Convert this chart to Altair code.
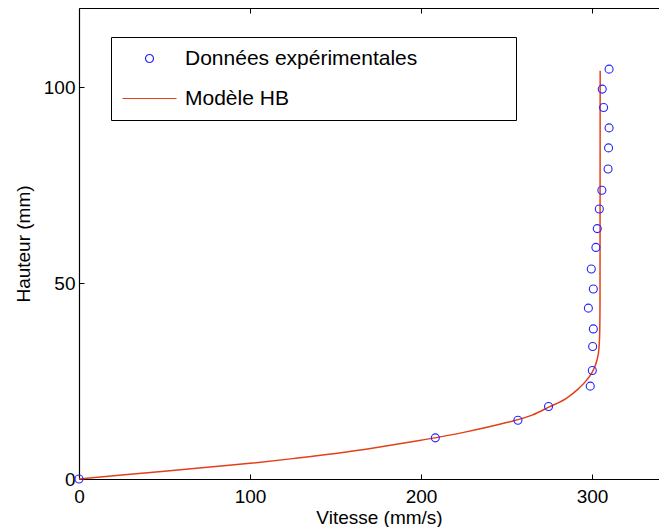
import altair as alt
import pandas as pd

# ---- data ----
series_names = ["Données expérimentales", "Modèle HB"]
series_colors = ["#2323ff", "#e3401a"]

vitesse_exp = [0, 208.4, 256.7, 274.6, 299.0, 300.2, 300.4, 300.8, 297.9, 300.8,
               299.6, 302.3, 303.1, 304.3, 305.8, 309.4, 309.7, 310.0, 306.8, 306.0, 310.0]
hauteur_exp = [0, 10.5, 15.0, 18.5, 23.7, 27.7, 33.8, 38.3, 43.6, 48.5,
               53.6, 59.1, 63.9, 68.9, 73.7, 79.1, 84.5, 89.6, 94.8, 99.5, 104.6]

vitesse_hb = [0, 25, 50, 75, 100, 125, 150, 175, 200, 225, 250, 265, 275, 285,
              292, 297, 301, 303, 304, 304.5, 304.7, 304.8]
hauteur_hb = [0, 1.0, 2.0, 3.0, 4.0, 5.2, 6.5, 8.1, 9.9, 11.9, 14.4, 16.3, 18.4, 20.6,
              23.0, 25.3, 28.0, 30.5, 33.0, 37.0, 45.0, 104.2]

x_ticks = [0, 100, 200, 300]
y_ticks = [0, 50, 100]
x_title = "Vitesse (mm/s)"
y_title = "Hauteur (mm)"

exp_df = pd.DataFrame({"vitesse": vitesse_exp, "hauteur": hauteur_exp,
                       "serie": series_names[0]})
hb_df = pd.DataFrame({"vitesse": vitesse_hb, "hauteur": hauteur_hb,
                      "serie": series_names[1], "ordre": list(range(len(vitesse_hb)))})

W, H = 580, 471
FONT = "Liberation Sans"
FS = 19

x_scale = alt.Scale(domain=[0, 339.2], nice=False, zero=False)
y_scale = alt.Scale(domain=[0, 120.2], nice=False, zero=False)

# invisible padding (no-break spaces closed by a zero-width space so it is not trimmed)
pad = "\u00a0" * 15 + "\u200b"
legend_kw = dict(
    title=None, orient="none", legendX=32, legendY=29,
    padding=11, rowPadding=18, symbolOffset=17, labelOffset=25,
    symbolSize=64, symbolStrokeWidth=1.2,
    strokeColor="black", fillColor="white", cornerRadius=0,
    labelFont=FONT, labelFontSize=21, labelColor="black",
    labelExpr=f"datum.label + '{pad}'", labelLimit=0,
)

color_enc = alt.Color("serie:N", scale=alt.Scale(domain=series_names, range=series_colors),
                      legend=alt.Legend(**legend_kw))
shape_enc = alt.Shape("serie:N", scale=alt.Scale(domain=series_names,
                                                   range=["circle", "M-6.75,0L6.75,0"]),
                      legend=alt.Legend(**legend_kw))

# layer 1: experimental points, with labelled axes (bottom / left)
points = alt.Chart(exp_df).mark_point(filled=False, size=64, strokeWidth=1.1, opacity=1).encode(
    x=alt.X("vitesse:Q", scale=x_scale,
            axis=alt.Axis(orient="bottom", values=x_ticks, ticks=False, title=x_title,
                          labelFlush=False, labelPadding=8, titleX=300, titleY=44,
                          titleBaseline="alphabetic", grid=False)),
    y=alt.Y("hauteur:Q", scale=y_scale,
            axis=alt.Axis(orient="left", values=y_ticks, ticks=False, title=y_title,
                          labelFlush=False, labelPadding=4, titlePadding=10, grid=False)),
    color=color_enc,
    shape=shape_enc,
)

# layer 2: HB model line, with inward tick axes along bottom and left edges
line = alt.Chart(hb_df).mark_line(strokeWidth=1.5, interpolate="monotone").encode(
    x=alt.X("vitesse:Q", scale=x_scale,
            axis=alt.Axis(orient="top", offset=-H, values=x_ticks, labels=False, title=None,
                          domain=False, ticks=True, tickSize=5, grid=False)),
    y=alt.Y("hauteur:Q", scale=y_scale,
            axis=alt.Axis(orient="right", offset=-W, values=y_ticks, labels=False, title=None,
                          domain=False, ticks=True, tickSize=5, grid=False)),
    order="ordre:Q",
    color=color_enc,
)

# layer 3: invisible copy giving the top border with inward ticks
border = alt.Chart(exp_df).mark_point(opacity=0).encode(
    x=alt.X("vitesse:Q", scale=x_scale,
            axis=alt.Axis(orient="bottom", offset=-H, values=x_ticks, labels=False, title=None,
                          domain=True, ticks=True, tickSize=5, grid=False)),
    y=alt.Y("hauteur:Q", scale=y_scale, axis=None),
)

chart = alt.layer(line, points, border).resolve_axis(
    x="independent", y="independent"
).properties(
    width=W, height=H,
    autosize=alt.AutoSizeParams(type="none"),
    padding={"left": 71, "top": 0, "right": 0, "bottom": 48},
).configure_axis(
    labelFont=FONT, titleFont=FONT, labelFontSize=FS, titleFontSize=FS,
    labelColor="black", titleColor="black", domainColor="black", tickColor="black",
    titleFontWeight="normal", domainWidth=1.2, tickWidth=1,
).configure_view(stroke=None)

chart.save("out.html", embed_options={"renderer": "svg", "actions": False})
